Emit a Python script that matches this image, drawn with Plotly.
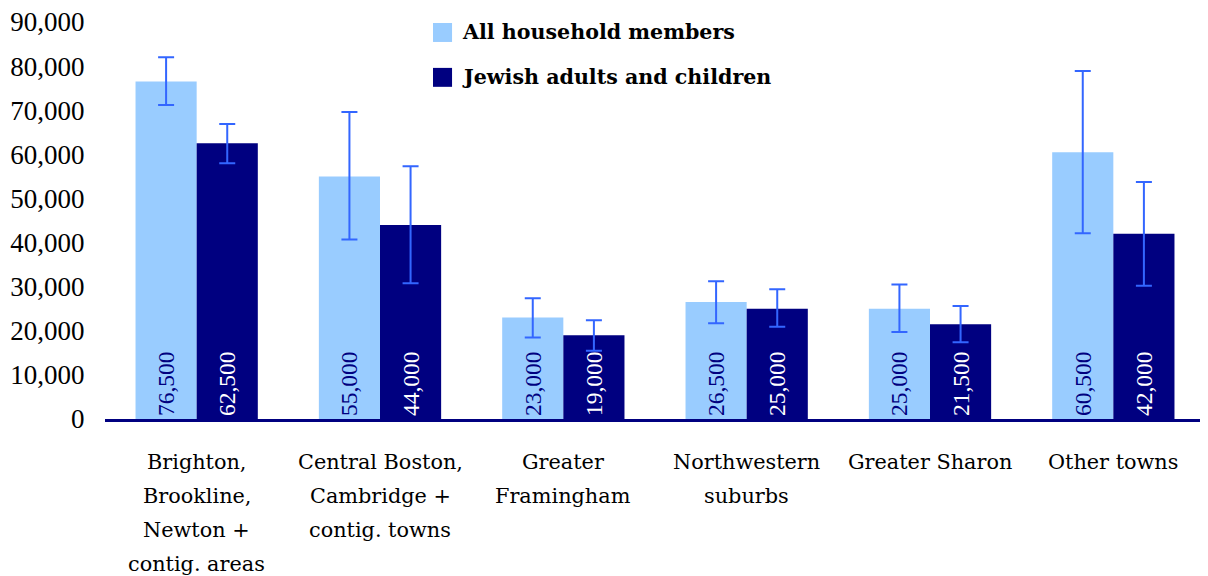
import plotly.graph_objects as go

categories = ["Brighton,<br>Brookline,<br>Newton +<br>contig. areas",
              "Central Boston,<br>Cambridge +<br>contig. towns",
              "Greater<br>Framingham",
              "Northwestern<br>suburbs",
              "Greater Sharon",
              "Other towns"]
cat_keys = ["c%d" % i for i in range(len(categories))]

series_names = ["All household members", "Jewish adults and children"]

all_members = [76500, 55000, 23000, 26500, 25000, 60500]
all_upper = [82000, 69600, 27400, 31200, 30500, 78900]
all_lower = [71200, 40700, 18500, 21700, 19700, 42100]

jewish = [62500, 44000, 19000, 25000, 21500, 42000]
jew_upper = [66900, 57300, 22400, 29400, 25600, 53700]
jew_lower = [58000, 30800, 15500, 20900, 17400, 30200]

y_ticks = [0, 10000, 20000, 30000, 40000, 50000, 60000, 70000, 80000, 90000]

TIMES = "Liberation Serif"
CENTURY = "DejaVu Serif"
LIGHT = "#99ccff"
DARK = "#000080"
ERR = "#3366ff"
colors = [LIGHT, DARK]

def err(vals, up, lo):
    return dict(type="data", symmetric=False,
                array=[u - v for u, v in zip(up, vals)],
                arrayminus=[v - l for v, l in zip(vals, lo)],
                color=ERR, thickness=2, width=8)

fig = go.Figure()
for vals, up, lo, name, col, tcol in [
        (all_members, all_upper, all_lower, series_names[0], LIGHT, DARK),
        (jewish, jew_upper, jew_lower, series_names[1], DARK, "white")]:
    tf = dict(family=TIMES, size=23.5, color=tcol)
    fig.add_trace(go.Bar(
        x=cat_keys, y=vals, name=name,
        marker=dict(color=col, line=dict(width=0)),
        error_y=err(vals, up, lo),
        text=[f"{v:,}" for v in vals], textposition="inside",
        insidetextanchor="start", textangle=-90,
        textfont=tf, insidetextfont=tf,
    ))

# category labels, one annotation per line for wider line spacing
for key, cat in zip(cat_keys, categories):
    for i, line in enumerate(cat.split("<br>")):
        fig.add_annotation(x=key, y=0, xref="x", yref="paper",
                           text=line, showarrow=False,
                           yanchor="middle", yshift=-43 - 34 * i,
                           font=dict(family=CENTURY, size=20.8, color="black"))

# custom legend (larger swatches and spacing than plotly's built-in legend)
leg_rows = [(0.9975, 0.9497, 0.9736), (0.8844, 0.8367, 0.8606)]
for name, col, (y1, y0, yc) in zip(series_names, colors, leg_rows):
    fig.add_shape(type="rect", xref="paper", yref="paper",
                  x0=0.2982, x1=0.3155, y0=y0, y1=y1,
                  fillcolor=col, line=dict(width=0))
    fig.add_annotation(x=0.3227, y=yc, xref="paper", yref="paper",
                       text="<b>%s</b>" % name, showarrow=False,
                       xanchor="left", yanchor="middle",
                       font=dict(family=CENTURY, size=20.6, color="black"))

fig.update_layout(
    width=1208, height=576,
    margin=dict(l=97, r=11, t=14, b=165),
    paper_bgcolor="white", plot_bgcolor="white",
    barmode="group", bargap=0.333, bargroupgap=0,
    font=dict(family=TIMES, size=22, color="black"),
    showlegend=False,
)
fig.update_xaxes(showticklabels=False, showline=True, linecolor=DARK,
                 linewidth=3, ticks="", showgrid=False, zeroline=False,
                 automargin=False)
fig.update_yaxes(range=[0, 90000], tickvals=y_ticks, tickformat=",",
                 showgrid=False, zeroline=False, showline=False,
                 ticks="outside", ticklen=14, tickcolor="rgba(0,0,0,0)",
                 automargin=False, ticklabeloverflow="allow",
                 tickfont=dict(family=TIMES, size=27, color="black"))

fig.write_html("out.html")
